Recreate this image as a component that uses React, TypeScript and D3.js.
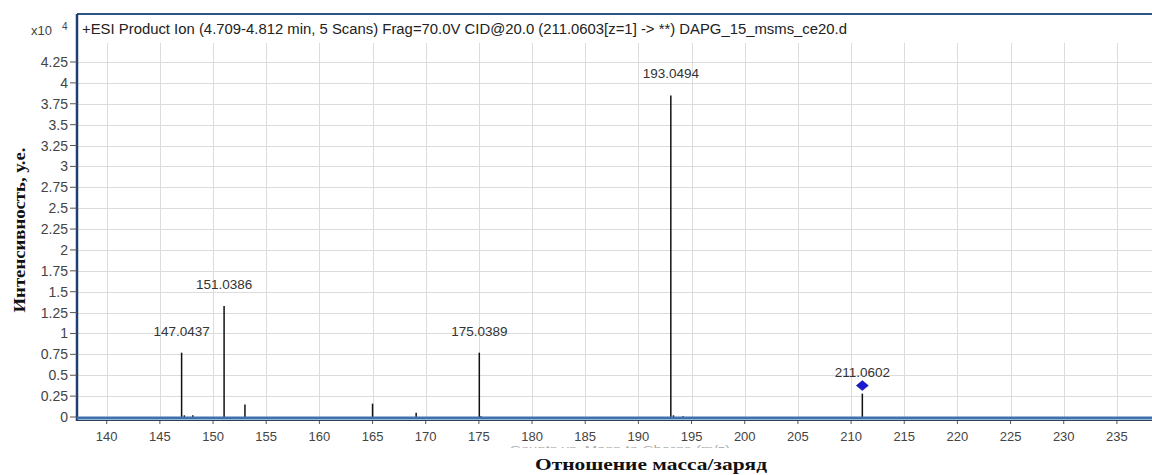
import React from 'react';
import * as d3 from 'd3';

// m/z of the peaks and their intensities (x10^4 counts)
const peakMz = [147.0437, 147.3, 148.1, 151.0386, 153.0, 165.0, 169.1, 175.0389, 175.2, 193.0494, 193.3, 194.2, 211.0602];
const peakIntensity = [0.77, 0.02, 0.02, 1.33, 0.15, 0.16, 0.05, 0.77, 0.01, 3.85, 0.02, 0.01, 0.28];

const labelMz = [147.0437, 151.0386, 175.0389, 193.0494, 211.0602];
const labelText = ['147.0437', '151.0386', '175.0389', '193.0494', '211.0602'];
const precursorMz = 211.0602;
const precursorIntensity = 0.28;

const xTicks = [140, 145, 150, 155, 160, 165, 170, 175, 180, 185, 190, 195, 200, 205, 210, 215, 220, 225, 230, 235];
const yTicks = [0, 0.25, 0.5, 0.75, 1, 1.25, 1.5, 1.75, 2, 2.25, 2.5, 2.75, 3, 3.25, 3.5, 3.75, 4, 4.25];

const title = '+ESI Product Ion (4.709-4.812 min, 5 Scans) Frag=70.0V CID@20.0 (211.0603[z=1] -> **) DAPG_15_msms_ce20.d';

const W = 1152;
const H = 475;
const left = 77;
const top = 14;
const gridTop = 43;
const bottom = 418;

const sans = '"Liberation Sans", Arial, sans-serif';
const serif = '"Liberation Serif", "Times New Roman", serif';

const App: React.FC = () => {
  const x = d3.scaleLinear().domain([137.3, 238.3]).range([78, 1152]);
  const y = d3.scaleLinear().domain([0, 4.25]).range([417, 62]);

  const intensityOf = (m: number) => peakIntensity[peakMz.indexOf(m)];

  return (
    <svg width={W} height={H} style={{ position: 'absolute', left: 0, top: 0, background: '#fff' }}>
      <defs>
        <clipPath id="cutTitle">
          <rect x={0} y={444} width={W} height={4} />
        </clipPath>
      </defs>

      {/* grid */}
      <g stroke="#dcdcdc" strokeWidth={1}>
        {xTicks.map(t => (
          <line key={'gx' + t} x1={Math.round(x(t)) + 0.5} x2={Math.round(x(t)) + 0.5} y1={gridTop} y2={bottom} />
        ))}
        {yTicks.filter(t => t > 0).map(t => (
          <line key={'gy' + t} x1={left} x2={W} y1={Math.round(y(t)) + 0.5} y2={Math.round(y(t)) + 0.5} />
        ))}
      </g>

      {/* title */}
      <text x={82} y={34} fontFamily={sans} fontSize={14} fill="#222" textLength={765} lengthAdjust="spacingAndGlyphs">
        {title}
      </text>

      {/* peaks */}
      <g stroke="#111" strokeWidth={1.5}>
        {peakMz.map((m, i) => (
          <line key={'p' + i} x1={x(m)} x2={x(m)} y1={y(0)} y2={y(peakIntensity[i])} />
        ))}
      </g>

      {/* precursor marker */}
      <path
        d="M0,-5L6,0L0,5L-6,0Z"
        transform={`translate(${x(precursorMz)},${y(precursorIntensity) - 8})`}
        fill="#1a1ad0"
        stroke="#0c0c90"
        strokeWidth={0.5}
      />

      {/* peak labels */}
      <g fontFamily={sans} fontSize={13.5} fill="#333" textAnchor="middle">
        {labelMz.map((m, i) => (
          <text key={'l' + i} x={x(m)} y={y(intensityOf(m)) - 17}>{labelText[i]}</text>
        ))}
      </g>

      {/* frame */}
      <line x1={left} x2={W} y1={top} y2={top} stroke="#2c5487" strokeWidth={2} />
      <line x1={left} x2={left} y1={top} y2={bottom + 3} stroke="#1f3f73" strokeWidth={2.5} />
      <line x1={left} x2={W} y1={bottom} y2={bottom} stroke="#3f72ad" strokeWidth={3} />
      <line x1={left} x2={W} y1={bottom + 2.5} y2={bottom + 2.5} stroke="#2a3f5f" strokeWidth={1} />

      {/* y axis */}
      <g fontFamily={sans} fontSize={14} fill="#444" textAnchor="end">
        {yTicks.map(t => (
          <g key={'yt' + t}>
            <line x1={70} x2={left} y1={y(t)} y2={y(t)} stroke="#555" strokeWidth={1} />
            <text x={68} y={y(t) + 5}>{d3.format('~g')(t)}</text>
          </g>
        ))}
      </g>
      <text x={31} y={35} fontFamily={sans} fontSize={13} fill="#444">x10</text>
      <text x={62} y={30} fontFamily={sans} fontSize={10} fill="#444">4</text>

      {/* x axis */}
      <g fontFamily={sans} fontSize={13} fill="#444" textAnchor="middle">
        {xTicks.map(t => (
          <g key={'xt' + t}>
            <line x1={x(t)} x2={x(t)} y1={bottom + 3} y2={bottom + 6} stroke="#555" strokeWidth={1} />
            <text x={x(t)} y={441}>{t}</text>
          </g>
        ))}
      </g>
      <text
        x={620}
        y={452}
        clipPath="url(#cutTitle)"
        fontFamily={sans}
        fontSize={9}
        fill="#aaa"
        textAnchor="middle"
        textLength={220}
        lengthAdjust="spacingAndGlyphs"
      >
        Counts vs. Mass-to-Charge (m/z)
      </text>

      {/* axis titles */}
      <text
        x={651}
        y={470}
        fontFamily={serif}
        fontWeight="bold"
        fontSize={17}
        fill="#111"
        textAnchor="middle"
        textLength={232}
        lengthAdjust="spacingAndGlyphs"
      >
        Отношение масса/заряд
      </text>
      <text
        transform="translate(25,230) rotate(-90)"
        fontFamily={serif}
        fontWeight="bold"
        fontSize={17.5}
        fill="#111"
        textAnchor="middle"
        textLength={165}
        lengthAdjust="spacingAndGlyphs"
      >
        Интенсивность, у.е.
      </text>
    </svg>
  );
};

export default App;
